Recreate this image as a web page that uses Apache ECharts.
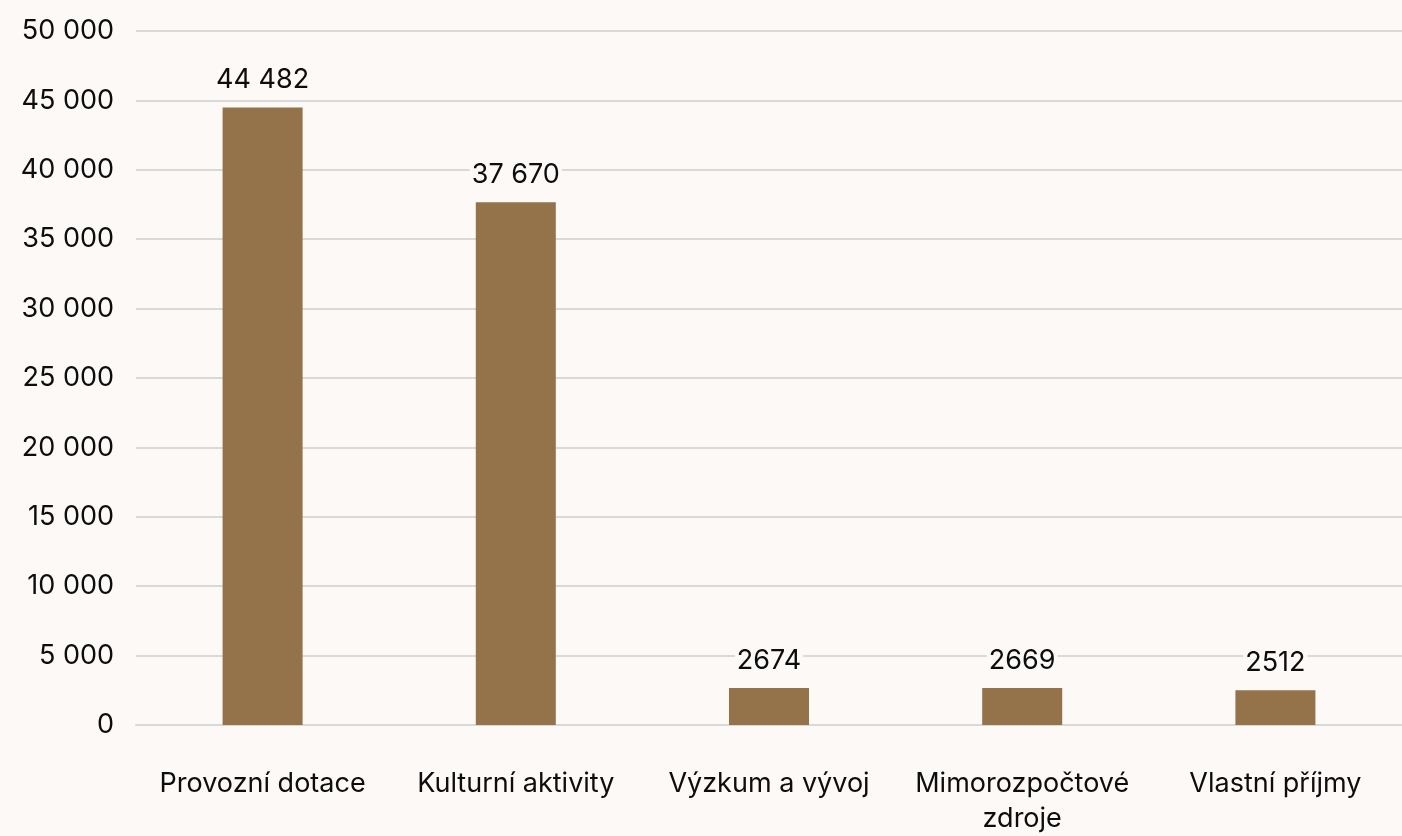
<!DOCTYPE html>
<html lang="cs">
<head>
    <meta charset="utf-8">
    <title>Zdroje financování</title>
    <script src="https://cdn.jsdelivr.net/npm/echarts@6/dist/echarts.min.js"></script>
    <style>
        html, body { margin: 0; padding: 0; background: #fcf9f6; overflow: hidden; }
    </style>
</head>
<body>

<div id="main" style="width: 100vw;height:100vh;"></div>

<script>
    // data
    var categories = ['Provozní dotace', 'Kulturní aktivity', 'Výzkum a vývoj', 'Mimorozpočtové\nzdroje', 'Vlastní příjmy'];
    var values = [44482, 37670, 2674, 2669, 2512];
    var yTicks = [0, 5000, 10000, 15000, 20000, 25000, 30000, 35000, 40000, 45000, 50000];

    // tisíce oddělené mezerou
    function spaced(v) {
        return String(v).replace(/\B(?=(\d{3})+(?!\d))/g, ' ');
    }

    var myChart = echarts.init(document.getElementById('main'));
    var font = 'Inter, "Liberation Sans", Arial, sans-serif';

    var option = {
        backgroundColor: '#fcf9f6',
        animation: false,
        grid: { left: 136, right: -7, top: 31, bottom: 105 },
        xAxis: {
            type: 'category',
            data: categories,
            axisLine: { show: true, lineStyle: { color: '#d9d9d9', width: 2 } },
            axisTick: { show: false },
            axisLabel: {
                color: '#0d0d0d', fontSize: 27, fontFamily: font,
                margin: 41, lineHeight: 35, interval: 0
            }
        },
        yAxis: {
            type: 'value',
            min: yTicks[0],
            max: yTicks[yTicks.length - 1],
            interval: yTicks[1] - yTicks[0],
            axisLine: { show: false },
            axisTick: { show: false },
            splitLine: { lineStyle: { color: '#d9d9d9', width: 2 } },
            axisLabel: {
                color: '#0d0d0d', fontSize: 27, fontFamily: font, margin: 22,
                formatter: function (v) { return spaced(v); }
            }
        },
        series: [
            {
                type: 'bar',
                data: values,
                barWidth: 80,
                itemStyle: { color: '#94724a' },
                label: {
                    show: true,
                    position: 'top',
                    distance: 14,
                    color: '#0d0d0d',
                    fontSize: 27,
                    fontFamily: font,
                    backgroundColor: '#fcf9f6',
                    padding: [0, 2],
                    formatter: function (p) {
                        return p.value >= 10000 ? spaced(p.value) : String(p.value);
                    }
                }
            }
        ]
    };

    myChart.setOption(option);
    window.addEventListener('resize', function () { myChart.resize(); });
</script>
</body>
</html>
